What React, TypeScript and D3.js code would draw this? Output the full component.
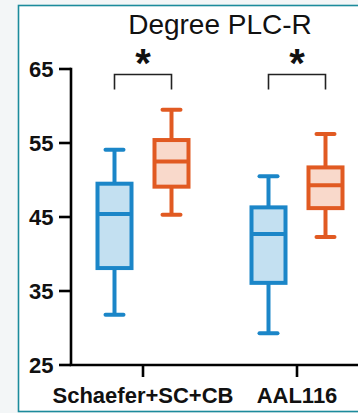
import React from 'react';
import * as d3 from 'd3';

const categories = ['Schaefer+SC+CB', 'AAL116'];
const groups = ['blue', 'orange'];
const yTicks = [25, 35, 45, 55, 65];

// five-number summaries, one value per category
const blueMin = [31.8, 29.3];
const blueQ1 = [38.1, 36.1];
const blueMedian = [45.4, 42.7];
const blueQ3 = [49.5, 46.3];
const blueMax = [54.1, 50.5];

const orangeMin = [45.3, 42.3];
const orangeQ1 = [49.1, 46.2];
const orangeMedian = [52.5, 49.3];
const orangeQ3 = [55.4, 51.7];
const orangeMax = [59.5, 56.2];

const significance = ['*', '*'];

const W = 358;
const H = 413;
const font = '"Liberation Sans", Arial, Helvetica, sans-serif';

const colors: Record<string, { stroke: string; fill: string }> = {
  blue: { stroke: '#1b86c8', fill: '#c3e0f1' },
  orange: { stroke: '#e15a22', fill: '#f9d9cb' },
};

const App = () => {
  const x = d3.scaleBand<string>().domain(categories).range([66, 374]).padding(0);
  const offset = d3.scalePoint<string>().domain(groups).range([-28.5, 28.5]);
  const y = d3.scaleLinear().domain([25, 65]).range([365, 69]);

  const boxes = categories.flatMap((c, i) => [
    { c, g: 'blue', min: blueMin[i], q1: blueQ1[i], med: blueMedian[i], q3: blueQ3[i], max: blueMax[i] },
    { c, g: 'orange', min: orangeMin[i], q1: orangeQ1[i], med: orangeMedian[i], q3: orangeQ3[i], max: orangeMax[i] },
  ]);

  const boxW = 34;
  const capHalf = 9;
  const axisX = 71;
  const axisY = y(25);

  return (
    <svg width={W} height={H} style={{ position: 'absolute', left: 0, top: 0 }} fontFamily={font}>
      <rect x={0} y={0} width={W} height={H} fill="#f3f6f7" />
      <rect x={18.5} y={5.5} width={W + 10} height={406} fill="#fff" stroke="#1c8b9c" strokeWidth={1.6} />

      <text x={220} y={33.5} textAnchor="middle" fontSize={28} fill="#111">Degree PLC-R</text>

      {/* boxes */}
      {boxes.map((b, i) => {
        const cx = (x(b.c) as number) + x.bandwidth() / 2 + (offset(b.g) as number);
        const col = colors[b.g];
        return (
          <g key={i} stroke={col.stroke} strokeWidth={4}>
            <line x1={cx} x2={cx} y1={y(b.max)} y2={y(b.q3)} />
            <line x1={cx} x2={cx} y1={y(b.q1)} y2={y(b.min)} />
            <line x1={cx - capHalf} x2={cx + capHalf} y1={y(b.max)} y2={y(b.max)} strokeLinecap="round" />
            <line x1={cx - capHalf} x2={cx + capHalf} y1={y(b.min)} y2={y(b.min)} strokeLinecap="round" />
            <rect x={cx - boxW / 2} y={y(b.q3)} width={boxW} height={y(b.q1) - y(b.q3)} fill={col.fill} />
            <line x1={cx - boxW / 2} x2={cx + boxW / 2} y1={y(b.med)} y2={y(b.med)} />
          </g>
        );
      })}

      {/* significance brackets */}
      {categories.map((c, i) => {
        const cx = (x(c) as number) + x.bandwidth() / 2;
        const l = cx + (offset('blue') as number);
        const r = cx + (offset('orange') as number);
        return (
          <g key={c}>
            <path d={`M${l},89.5V74.5H${r}V89.5`} fill="none" stroke="#222" strokeWidth={1.6} />
            <text x={cx} y={77} textAnchor="middle" fontSize={40} fontWeight="bold" fill="#111">{significance[i]}</text>
          </g>
        );
      })}

      {/* axes */}
      <g stroke="#000" strokeWidth={2.6} fill="none">
        <line x1={axisX} x2={axisX} y1={y(65) - 1.3} y2={axisY} />
        <line x1={axisX - 1.3} x2={W} y1={axisY} y2={axisY} />
        {yTicks.map(t => (
          <line key={t} x1={59} x2={axisX} y1={y(t)} y2={y(t)} />
        ))}
        {categories.map(c => {
          const cx = (x(c) as number) + x.bandwidth() / 2;
          return <line key={c} x1={cx} x2={cx} y1={axisY} y2={axisY + 12} />;
        })}
      </g>
      {yTicks.map(t => (
        <text key={t} x={53.5} y={y(t) + 7.5} textAnchor="end" fontSize={22} fontWeight="bold" fill="#111">{t}</text>
      ))}
      {categories.map(c => (
        <text key={c} x={(x(c) as number) + x.bandwidth() / 2} y={402.5} textAnchor="middle" fontSize={22} fontWeight="bold" fill="#111">{c}</text>
      ))}
    </svg>
  );
};

export default App;
